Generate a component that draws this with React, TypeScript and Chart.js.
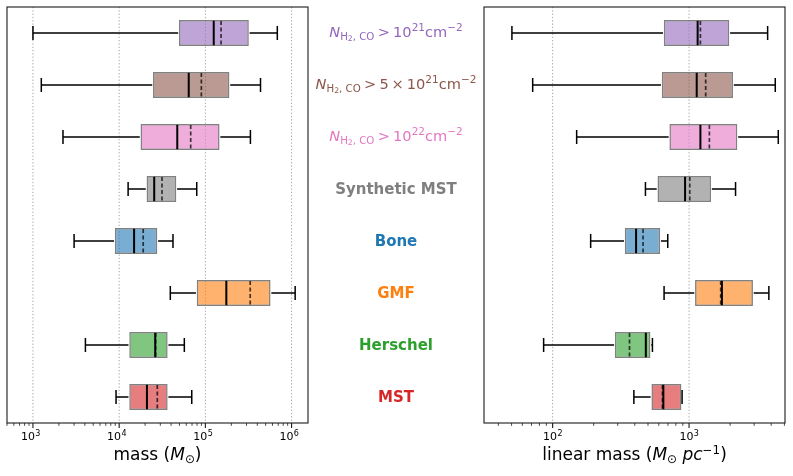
import React, { useEffect, useRef } from 'react';
import { Chart, registerables } from 'chart.js';

Chart.register(...registerables);

// ---------- data ----------
const CATEGORIES = [
  'N > 1e21 cm-2',
  'N > 5e21 cm-2',
  'N > 1e22 cm-2',
  'Synthetic MST',
  'Bone',
  'GMF',
  'Herschel',
  'MST',
];
const COLORS = ['#9467bd', '#8c564b', '#e377c2', '#7f7f7f', '#1f77b4', '#ff7f0e', '#2ca02c', '#d62728'];

// mass (M_sun)
const MASS_WHISKER_LOW = [1000, 1250, 2230, 12700, 3000, 39200, 4060, 9200];
const MASS_Q1 = [49400, 24700, 17700, 20800, 8900, 79400, 13100, 13100];
const MASS_MEDIAN = [125000, 64100, 47200, 25500, 14900, 175000, 26200, 21000];
const MASS_MEAN = [152000, 89800, 67600, 31400, 19000, 331000, 26500, 27700];
const MASS_Q3 = [319000, 190000, 146000, 46000, 27700, 570000, 36500, 36500];
const MASS_WHISKER_HIGH = [683000, 436000, 333000, 79400, 42100, 1100000, 57000, 69500];

// linear mass (M_sun / pc)
const LIN_WHISKER_LOW = [50.3, 71.4, 150, 479, 190, 656, 85.9, 394];
const LIN_Q1 = [653, 631, 718, 587, 338, 1107, 286, 530];
const LIN_MEDIAN = [1156, 1138, 1211, 935, 409, 1741, 482, 648];
const LIN_MEAN = [1211, 1324, 1409, 1012, 460, 1706, 366, 638];
const LIN_Q3 = [1972, 2099, 2259, 1449, 614, 2938, 521, 879];
const LIN_WHISKER_HIGH = [3767, 4285, 4508, 2192, 698, 3846, 539, 889];

// axes
const MASS_MIN = 500;
const MASS_MAX = 1.55e6;
const MASS_MAJOR_TICKS = [1e3, 1e4, 1e5, 1e6];
const MASS_TICK_EXPONENTS = ['3', '4', '5', '6'];
const LIN_MIN = 31.4;
const LIN_MAX = 5050;
const LIN_MAJOR_TICKS = [1e2, 1e3];
const LIN_TICK_EXPONENTS = ['2', '3'];
const MINOR_MULTIPLIERS = [2, 3, 4, 5, 6, 7, 8, 9];

// middle labels
const N_LABEL_MANTISSAS = ['10', '5\u2009×\u200910', '10'];
const N_LABEL_EXPONENTS = ['21', '21', '22'];

// ---------- helpers ----------
function withAlpha(hex: string, a: number) {
  const n = parseInt(hex.slice(1), 16);
  return `rgba(${(n >> 16) & 255},${(n >> 8) & 255},${n & 255},${a})`;
}

function allTicks(min: number, max: number, majors: number[]) {
  const out: { value: number; major: boolean }[] = [];
  const lo = Math.floor(Math.log10(min));
  const hi = Math.ceil(Math.log10(max));
  for (let e = lo; e <= hi; e++) {
    const d = Math.pow(10, e);
    [1, ...MINOR_MULTIPLIERS].forEach((m) => {
      const v = m * d;
      if (v >= min && v <= max) out.push({ value: v, major: m === 1 && majors.includes(v) });
    });
  }
  return out;
}

type Stats = {
  lo: number[];
  q1: number[];
  med: number[];
  mean: number[];
  q3: number[];
  hi: number[];
};

function makePlugin(s: Stats, majors: number[], exps: string[], labelShift: number) {
  return {
    id: 'boxExtras',
    beforeDatasetsDraw(chart: any) {
      const { ctx, chartArea: a } = chart;
      const x = chart.scales.x;
      ctx.save();
      ctx.strokeStyle = 'rgba(0,0,0,0.45)';
      ctx.lineWidth = 0.8;
      ctx.setLineDash([1.3, 2]);
      majors.forEach((v) => {
        const px = x.getPixelForValue(v);
        if (px < a.left || px > a.right) return;
        ctx.beginPath();
        ctx.moveTo(px, a.top);
        ctx.lineTo(px, a.bottom);
        ctx.stroke();
      });
      ctx.restore();
    },
    afterDatasetsDraw(chart: any) {
      const { ctx, chartArea: a } = chart;
      const x = chart.scales.x;
      const y = chart.scales.y;
      const meta = chart.getDatasetMeta(0);
      ctx.save();
      s.q1.forEach((_, i) => {
        const yc = y.getPixelForValue(i);
        const el = meta.data[i];
        const half = (el && el.height ? el.height : 26) / 2;
        const capHalf = half * 0.54;
        const pLo = x.getPixelForValue(s.lo[i]);
        const pQ1 = x.getPixelForValue(s.q1[i]);
        const pQ3 = x.getPixelForValue(s.q3[i]);
        const pHi = x.getPixelForValue(s.hi[i]);
        const pMed = x.getPixelForValue(s.med[i]);
        const pMean = x.getPixelForValue(s.mean[i]);
        // whiskers
        ctx.setLineDash([]);
        ctx.strokeStyle = '#000';
        ctx.lineWidth = 1.3;
        ctx.beginPath();
        ctx.moveTo(pLo, yc);
        ctx.lineTo(pQ1 - 0.8, yc);
        ctx.moveTo(pQ3 + 0.8, yc);
        ctx.lineTo(pHi, yc);
        ctx.stroke();
        // caps
        ctx.lineWidth = 1.5;
        ctx.beginPath();
        ctx.moveTo(pLo, yc - capHalf);
        ctx.lineTo(pLo, yc + capHalf);
        ctx.moveTo(pHi, yc - capHalf);
        ctx.lineTo(pHi, yc + capHalf);
        ctx.stroke();
        // mean (dashed)
        ctx.strokeStyle = 'rgba(0,0,0,0.72)';
        ctx.lineWidth = 1.7;
        ctx.setLineDash([4, 2.5]);
        ctx.beginPath();
        ctx.moveTo(pMean, yc - half + 1);
        ctx.lineTo(pMean, yc + half - 1);
        ctx.stroke();
        // median
        ctx.setLineDash([]);
        ctx.strokeStyle = '#000';
        ctx.lineWidth = 2;
        ctx.beginPath();
        ctx.moveTo(pMed, yc - half + 0.8);
        ctx.lineTo(pMed, yc + half - 0.8);
        ctx.stroke();
      });
      // frame
      ctx.setLineDash([]);
      ctx.strokeStyle = '#1a1a1a';
      ctx.lineWidth = 1.1;
      ctx.strokeRect(a.left, a.top, a.right - a.left, a.bottom - a.top);
      // tick marks
      x.ticks.forEach((t: any) => {
        const px = x.getPixelForValue(t.value);
        if (px < a.left - 0.5 || px > a.right + 0.5) return;
        ctx.lineWidth = t.major ? 1.1 : 0.8;
        ctx.beginPath();
        ctx.moveTo(px, a.bottom);
        ctx.lineTo(px, a.bottom + (t.major ? 5 : 2.8));
        ctx.stroke();
      });
      // tick labels: 10^n in mathtext style
      ctx.fillStyle = '#000';
      ctx.textBaseline = 'alphabetic';
      ctx.textAlign = 'left';
      const base = a.bottom + 17;
      majors.forEach((v, k) => {
        const px = x.getPixelForValue(v);
        ctx.font = '11px "DejaVu Sans"';
        const w1 = ctx.measureText('10').width;
        ctx.font = '8px "DejaVu Sans"';
        const w2 = ctx.measureText(exps[k]).width;
        const start = px - (w1 + w2) / 2 + labelShift;
        ctx.font = '11px "DejaVu Sans"';
        ctx.fillText('10', start, base);
        ctx.font = '8px "DejaVu Sans"';
        ctx.fillText(exps[k], start + w1 + 0.3, base - 4.5);
      });
      ctx.restore();
    },
  };
}

type PanelProps = {
  stats: Stats;
  min: number;
  max: number;
  majors: number[];
  exps: string[];
  labelShift: number;
  left: number;
  width: number;
  padLeft: number;
  padRight: number;
};

function Panel(p: PanelProps) {
  const ref = useRef<HTMLCanvasElement | null>(null);
  useEffect(() => {
    if (!ref.current) return;
    const ticks = allTicks(p.min, p.max, p.majors);
    const chart = new Chart(ref.current, {
      type: 'bar',
      data: {
        labels: CATEGORIES,
        datasets: [
          {
            data: p.stats.q1.map((q, i) => [q, p.stats.q3[i]]) as any,
            backgroundColor: COLORS.map((c) => withAlpha(c, 0.6)),
            borderColor: 'rgba(115,115,115,0.9)',
            borderWidth: 1.5,
            borderSkipped: false,
            barPercentage: 0.5,
            categoryPercentage: 1,
          },
        ],
      },
      options: {
        indexAxis: 'y',
        responsive: false,
        animation: false,
        devicePixelRatio: 1,
        layout: { padding: { left: p.padLeft, right: p.padRight, top: 7, bottom: 0 } },
        plugins: { legend: { display: false }, tooltip: { enabled: false } },
        scales: {
          y: { type: 'category', display: false, offset: true },
          x: {
            type: 'logarithmic',
            min: p.min,
            max: p.max,
            grid: { display: false, drawTicks: false },
            border: { display: false },
            afterBuildTicks: (scale: any) => {
              scale.ticks = ticks.map((t) => ({ value: t.value, major: t.major }));
            },
            afterFit: (scale: any) => {
              scale.height = 53;
            },
            ticks: { display: false, autoSkip: false },
          },
        },
      },
      plugins: [makePlugin(p.stats, p.majors, p.exps, p.labelShift)],
    } as any);
    return () => chart.destroy();
  }, []);
  return (
    <canvas
      ref={ref}
      width={p.width}
      height={476}
      style={{ position: 'absolute', left: p.left, top: 0, width: p.width, height: 476, display: 'block' }}
    />
  );
}

const sub = (size: number, top: number): React.CSSProperties => ({
  fontSize: `${size}em`,
  position: 'relative',
  top: `${top}em`,
});

function NLabel({ i }: { i: number }) {
  return (
    <span>
      <span style={{ fontStyle: 'italic' }}>N</span>
      <span style={sub(0.7, 0.3)}>
        H<span style={sub(0.75, 0.2)}>2</span>, CO
      </span>
      <span style={{ margin: '0 0.22em' }}>&gt;</span>
      {N_LABEL_MANTISSAS[i]}
      <span style={sub(0.72, -0.55)}>{N_LABEL_EXPONENTS[i]}</span>
      cm
      <span style={sub(0.72, -0.55)}>−2</span>
    </span>
  );
}

export default function App() {
  const mass: Stats = {
    lo: MASS_WHISKER_LOW,
    q1: MASS_Q1,
    med: MASS_MEDIAN,
    mean: MASS_MEAN,
    q3: MASS_Q3,
    hi: MASS_WHISKER_HIGH,
  };
  const lin: Stats = {
    lo: LIN_WHISKER_LOW,
    q1: LIN_Q1,
    med: LIN_MEDIAN,
    mean: LIN_MEAN,
    q3: LIN_Q3,
    hi: LIN_WHISKER_HIGH,
  };
  return (
    <div
      style={{
        position: 'fixed',
        left: 0,
        top: 0,
        width: 793,
        height: 476,
        background: '#fff',
        fontFamily: 'DejaVu Sans',
        overflow: 'hidden',
      }}
    >
      <Panel
        stats={mass}
        min={MASS_MIN}
        max={MASS_MAX}
        majors={MASS_MAJOR_TICKS}
        exps={MASS_TICK_EXPONENTS}
        labelShift={-2.5}
        left={0}
        width={320}
        padLeft={7}
        padRight={12}
      />
      <Panel
        stats={lin}
        min={LIN_MIN}
        max={LIN_MAX}
        majors={LIN_MAJOR_TICKS}
        exps={LIN_TICK_EXPONENTS}
        labelShift={0}
        left={470}
        width={323}
        padLeft={14}
        padRight={8}
      />
      <div
        style={{
          position: 'absolute',
          left: 308,
          top: 7,
          width: 176,
          height: 416,
          display: 'flex',
          flexDirection: 'column',
        }}
      >
        {CATEGORIES.map((c, i) => (
          <div
            key={c}
            style={{
              height: 52,
              display: 'flex',
              alignItems: 'center',
              justifyContent: 'center',
              color: COLORS[i],
              fontSize: i < 3 ? 14.6 : 15,
              fontWeight: i < 3 ? 'normal' : 'bold',
              whiteSpace: 'nowrap',
              lineHeight: '14px',
            }}
          >
            {i < 3 ? <NLabel i={i} /> : c}
          </div>
        ))}
      </div>
      <div
        style={{
          position: 'absolute',
          left: 7,
          width: 301,
          top: 446,
          textAlign: 'center',
          fontSize: 17,
          lineHeight: '17px',
          color: '#000',
          whiteSpace: 'nowrap',
        }}
      >
        mass (<span style={{ fontStyle: 'italic' }}>M</span>
        <span style={sub(0.7, 0.25)}>⊙</span>)
      </div>
      <div
        style={{
          position: 'absolute',
          left: 484,
          width: 301,
          top: 446,
          textAlign: 'center',
          fontSize: 17,
          lineHeight: '17px',
          color: '#000',
          whiteSpace: 'nowrap',
        }}
      >
        linear mass (<span style={{ fontStyle: 'italic' }}>M</span>
        <span style={sub(0.7, 0.25)}>⊙</span> <span style={{ fontStyle: 'italic' }}>pc</span>
        <span style={sub(0.7, -0.5)}>−1</span>)
      </div>
    </div>
  );
}
